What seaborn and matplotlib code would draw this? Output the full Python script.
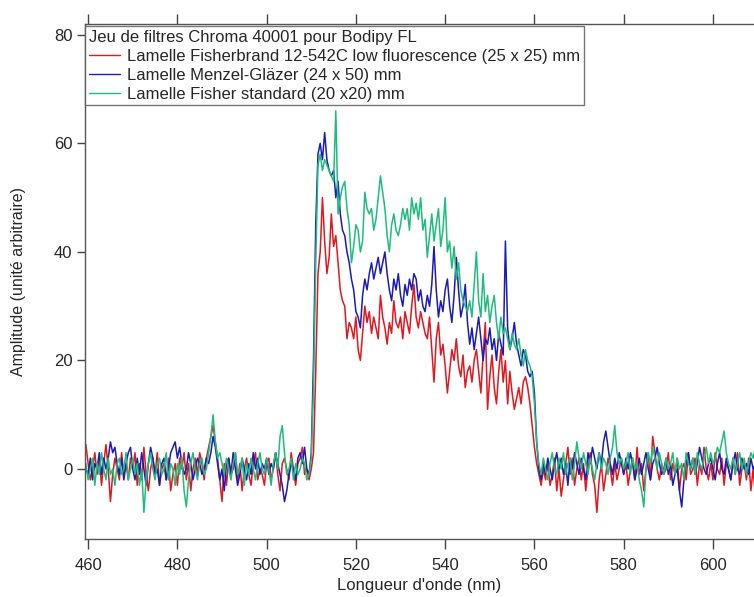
import numpy as np
import pandas as pd
import matplotlib
matplotlib.use("Agg")
import matplotlib.pyplot as plt
import seaborn as sns

# Wavelength grid (nm), 0.5 nm step from 459.5 to 610
wavelength = np.arange(459.5, 610.01, 0.5)

red = [
    4.5, 1, -2, 0, 3, -1, 2, -3, 1, 4.5, 0, -6, -1, 2, 0, -2, 3, -1, 1, -2,
    2, 0, 3, -3, 1, -2, 4, -1, -4, 0, 2, -1, 3, -3, 0, 1, -2, 2, -4, -1,
    1, -3, 2, 0, 3, -2, 1, -4, 0, 2, -1, 3, 1, -2, 2, 4, 6, 8, 5, 2,
    -2, -6, 1, -3, 2, -1, 0, 3, -2, 1, -4, 0, 2, -1, -3, 1, 3, -2, 0, -1,
    -3, 1, 2, -2, 0, 3, -1, -4, 1, 2, 0, -2, 3, 0, -3, 1, 2, 4, -1, 0,
    -2, 0, 3, 18, 36, 40, 50, 42, 36, 39, 47, 41, 43, 38, 33, 31, 30, 24, 27, 26,
    24, 28, 22, 20, 25, 30, 27, 29, 25, 28, 26, 24, 32, 28, 26, 23, 27, 25, 31, 27,
    26, 28, 24, 29, 27, 25, 30, 34, 28, 26, 29, 27, 25, 24, 28, 22, 16, 24, 27, 21,
    23, 19, 14, 18, 22, 20, 24, 19, 17, 21, 15, 18, 19, 16, 20, 22, 18, 14, 21, 27,
    11, 17, 21, 15, 12, 18, 22, 16, 20, 12, 18, 14, 11, 13, 15, 12, 16, 17, 15, 12,
    8, 4, 1, -1, -3, 0, -2, 1, -3, -1, 2, -4, 0, -5, -2, 1, 4, -1, 2, -3,
    0, 2, -2, 1, -4, 0, 3, -1, -3, -8, -2, 1, -4, -1, 2, 0, -3, 1, -2, 0,
    2, -1, 1, -3, 0, 2, -2, 4, -1, 1, -4, 0, 3, -2, 6, 3, 0, -2, 1, -1,
    0, 3, -2, 1, -1, 2, -4, 0, 1, -2, 3, -1, 0, 2, -3, 1, -1, 4, 0, -2,
    1, -2, 3, 0, -1, 2, -3, 1, 0, -2, 2, -1, 3, -3, 0, 1, -2, 2, -4, 0,
    -5, -3,
]

blue = [
    0, -1, 2, -2, 1, 0, 3, -1, 2, 0, 2, 5, 3, 4, 1, -1, 2, -2, 1, 3,
    4, 0, -2, 2, -1, 3, 0, -3, 1, 4, 2, -1, 0, -3, 1, 2, -2, 0, 3, 4,
    5, 2, 4, 1, -1, 0, 3, 1, -2, 0, 2, 1, -1, 0, 2, 1, 3, 6, 4, 1,
    -2, 0, -4, 1, 2, -1, 3, 0, -3, -1, 2, 0, -2, 1, -1, 3, 0, 2, -1, 1,
    0, 2, -1, 1, 0, 3, 1, -1, -3, -6, -4, -1, 1, 0, -2, 2, 3, 1, 4, 0,
    -1, 3, 20, 45, 58, 60, 57, 62, 57, 55, 54, 55, 50, 53, 47, 44, 43, 40, 38, 35,
    33, 29, 28, 26, 32, 35, 33, 36, 38, 35, 37, 39, 36, 38, 40, 36, 33, 31, 35, 33,
    36, 32, 30, 34, 32, 35, 33, 36, 35, 31, 33, 30, 29, 32, 30, 34, 41, 33, 28, 31,
    29, 33, 35, 30, 27, 32, 39, 33, 28, 30, 34, 27, 23, 26, 22, 25, 28, 24, 20, 24,
    23, 26, 22, 24, 20, 25, 23, 21, 42, 26, 22, 24, 27, 23, 21, 19, 22, 21, 18, 17,
    18, 14, 5, 0, -2, 1, -1, 2, 0, -2, 1, 3, 0, 2, -1, 1, -3, 2, 0, 3,
    1, -1, 2, 0, -2, 3, 1, 4, 2, 0, 3, 1, 5, 7, 4, 1, -1, 2, 0, 3,
    1, -1, 2, 0, 3, 1, -2, 0, 2, -1, 1, 3, 0, -2, 1, 2, 4, 1, -1, 0,
    2, -1, 1, -3, -1, 0, -4, -7, -2, 1, 3, 0, 2, -1, 1, 4, 2, 0, -1, 1,
    2, 0, -2, 1, 3, 0, -1, 2, 0, -2, 1, 3, 0, -1, 2, 0, 1, -1, 2, 0,
    1, 0,
]

green = [
    1, -2, 0, 2, -3, 1, -1, 3, 0, -2, 2, -1, 0, -3, 1, 2, -1, 0, 3, -2,
    0, 2, -1, 1, -3, 0, -8, -2, 1, 3, 0, -2, 1, 2, -1, 0, 3, -2, 1, 0,
    -3, 1, -1, 2, -4, -7, -2, 1, 3, 0, -2, 1, 2, -1, 0, 3, 6, 10, 5, 2,
    3, 1, -1, 2, 0, -2, 1, 3, -1, 0, 2, -3, 1, -1, 2, 0, -2, 1, 3, 0,
    -1, 2, 0, -3, 1, 3, 0, 6, 8, 3, -1, 0, 2, -2, 1, -1, 0, 2, 1, -2,
    -1, 2, 15, 38, 56, 58, 55, 57, 56, 55, 54, 53, 66, 47, 50, 52, 53, 48, 45, 38,
    41, 45, 44, 40, 42, 51, 48, 47, 48, 44, 46, 50, 54, 51, 48, 43, 40, 45, 47, 44,
    43, 45, 48, 46, 48, 44, 50, 47, 49, 46, 50, 44, 46, 39, 43, 47, 42, 45, 48, 41,
    44, 50, 40, 42, 37, 41, 35, 38, 33, 31, 30, 29, 31, 28, 34, 40, 31, 28, 36, 29,
    32, 27, 30, 32, 27, 24, 28, 25, 26, 24, 22, 25, 23, 22, 24, 21, 19, 22, 20, 19,
    17, 12, 5, 1, -1, 2, 0, -2, 1, 3, 0, -1, 2, 0, 3, -1, 1, 2, -2, 1,
    5, 2, 0, 3, 1, -1, 2, 0, -2, 1, 3, 0, 2, 1, -1, 2, 4, 8, 3, 1,
    2, 0, 1, 3, -1, 2, 0, 1, -2, -4, -7, 0, 3, 1, 4, 2, 0, 3, 1, -1,
    2, 0, 1, 3, -1, 2, 0, 1, -2, 3, 1, 0, 2, -1, 3, 1, 0, 2, 4, 1,
    3, 1, 2, 4, 3, 5, 7, 3, 1, 0, 2, -1, 1, 3, 0, 2, -1, 1, 3, 2,
    4, 4,
]

series_names = [
    "Lamelle Fisherbrand 12-542C low fluorescence (25 x 25) mm",
    "Lamelle Menzel-Gläzer (24 x 50) mm",
    "Lamelle Fisher standard (20 x20) mm",
]
legend_title = "Jeu de filtres Chroma 40001 pour Bodipy FL"
colors = ["#e4161f", "#1b1bb8", "#1fbd7c"]
x_ticks = [460, 480, 500, 520, 540, 560, 580, 600]
y_ticks = [0, 20, 40, 60, 80]

frames = []
for name, vals in zip(series_names, [red, blue, green]):
    frames.append(pd.DataFrame({"wl": wavelength[:len(vals)], "amp": vals, "serie": name}))
df = pd.concat(frames, ignore_index=True)

sns.set_theme(style="ticks")
plt.rcParams["font.family"] = ["Liberation Sans", "DejaVu Sans"]

fig = plt.figure(figsize=(7.54, 5.97), dpi=100)
ax = fig.add_axes([85 / 754, 1 - 539 / 597, 1 - 85 / 754, (539 - 24) / 597])

sns.lineplot(data=df, x="wl", y="amp", hue="serie", palette=colors,
             hue_order=series_names, linewidth=1.1, ax=ax, estimator=None,
             sort=False)

ax.set_xlim(459.3, 609.2)
ax.set_ylim(-12.9, 82.0)
ax.set_xticks(x_ticks)
ax.set_yticks(y_ticks)
ax.set_xlabel("Longueur d'onde (nm)", fontsize=12, labelpad=3)
ax.set_ylabel("Amplitude (unité arbitraire)", fontsize=11.5, labelpad=20)

for s in ["left", "bottom", "top"]:
    ax.spines[s].set_color("#555555")
    ax.spines[s].set_linewidth(1.0)
ax.spines["right"].set_visible(False)

ax.tick_params(axis="x", which="both", direction="out", length=7, width=1.0,
               color="#444444", top=True, labeltop=False, labelsize=12, pad=7)
ax.tick_params(axis="y", which="both", direction="out", length=6, width=1.0,
               color="#444444", right=False, labelsize=12, pad=3)

leg = ax.legend(title=legend_title, loc="upper left", bbox_to_anchor=(0.0, 0.996),
                borderaxespad=0, fancybox=False, frameon=True, fontsize=12,
                title_fontsize=12, handlelength=1.9, handletextpad=0.4,
                labelspacing=0.24, borderpad=0.22)
leg._legend_box.align = "left"
leg.get_frame().set_edgecolor("#555555")
leg.get_frame().set_linewidth(1.0)
for line in leg.get_lines():
    line.set_linewidth(1.0)

fig.savefig("out.png", dpi=100)
